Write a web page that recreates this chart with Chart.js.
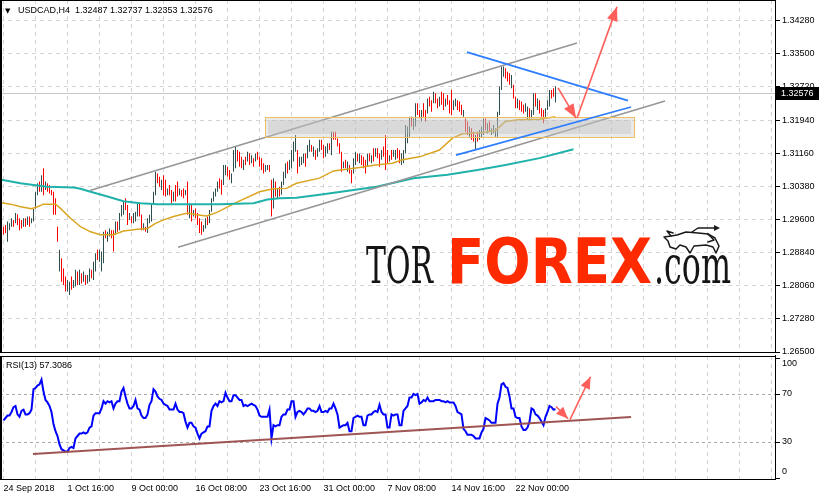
<!DOCTYPE html>
<html><head><meta charset="utf-8">
<script src="https://cdn.jsdelivr.net/npm/chart.js@4/dist/chart.umd.min.js"></script>
<style>
html,body{margin:0;padding:0;background:#fff;}
#wrap{position:relative;width:819px;height:500px;overflow:hidden;background:#fff;}
#main{position:absolute;left:0;top:0;}
#rsi{position:absolute;left:0;top:355px;}
</style></head><body>
<div id="wrap">
<canvas id="main" width="819" height="362"></canvas>
<canvas id="rsi" width="819" height="145"></canvas>
</div>
<script>
// ---------------- DATA ----------------
const symbolTitle = "USDCAD,H4";
const lastBar = {o:1.32487, h:1.32737, l:1.32353, c:1.32576};
const rsiTitle = "RSI(13) 57.3086";
const priceTicks = [1.26500,1.27280,1.28060,1.28840,1.29600,1.30380,1.31160,1.31940,1.32720,1.33500,1.34280];
const rsiTicks = [0,30,70,100];
const rsiLevels = [30,70];
const timeLabels = ["24 Sep 2018","1 Oct 16:00","9 Oct 00:00","16 Oct 08:00","23 Oct 16:00","31 Oct 00:00","7 Nov 08:00","14 Nov 16:00","22 Nov 00:00"];
const labelEvery = 32;   // bars between time labels
const gridEvery = 16;    // bars between vertical grid lines

const highs = [
1.2944,1.2948,1.2956,1.2952,1.2964,1.2960,1.2976,1.2973,1.2964,1.2960,
1.2964,1.2964,1.2968,1.2968,1.2964,1.2987,1.3026,1.3046,1.3050,1.3065,
1.3081,1.3050,1.3046,1.3042,1.3030,1.3026,1.3011,1.2944,1.2890,1.2870,
1.2846,1.2827,1.2819,1.2815,1.2827,1.2819,1.2843,1.2839,1.2843,1.2835,
1.2839,1.2831,1.2831,1.2846,1.2843,1.2862,1.2882,1.2890,1.2890,1.2886,
1.2932,1.2936,1.2932,1.2940,1.2936,1.2936,1.2956,1.2956,1.2976,1.2995,
1.3003,1.3011,1.2995,1.2976,1.2968,1.2976,1.2979,1.2999,1.2999,1.2972,
1.2952,1.2944,1.2964,1.2972,1.2999,1.3026,1.3073,1.3069,1.3061,1.3054,
1.3065,1.3054,1.3034,1.3042,1.3030,1.3026,1.3042,1.3050,1.3034,1.3030,
1.3034,1.3030,1.3050,1.2999,1.2995,1.2983,1.2987,1.2976,1.2964,1.2956,
1.2948,1.2964,1.2968,1.2983,1.3011,1.3026,1.3034,1.3050,1.3058,1.3054,
1.3089,1.3089,1.3085,1.3077,1.3069,1.3124,1.3132,1.3124,1.3120,1.3108,
1.3101,1.3108,1.3120,1.3116,1.3112,1.3105,1.3116,1.3120,1.3108,1.3105,
1.3093,1.3089,1.3089,1.3089,1.3054,1.3058,1.3050,1.3034,1.3038,1.3050,
1.3073,1.3093,1.3097,1.3101,1.3124,1.3144,1.3159,1.3124,1.3108,1.3108,
1.3116,1.3116,1.3136,1.3148,1.3136,1.3132,1.3124,1.3128,1.3148,1.3148,
1.3136,1.3132,1.3140,1.3140,1.3167,1.3167,1.3167,1.3151,1.3140,1.3120,
1.3097,1.3101,1.3097,1.3089,1.3077,1.3105,1.3120,1.3116,1.3116,1.3112,
1.3108,1.3101,1.3116,1.3116,1.3112,1.3128,1.3128,1.3128,1.3116,1.3124,
1.3132,1.3159,1.3124,1.3112,1.3124,1.3124,1.3124,1.3128,1.3124,1.3116,
1.3124,1.3183,1.3179,1.3202,1.3202,1.3198,1.3234,1.3234,1.3218,1.3218,
1.3234,1.3218,1.3245,1.3249,1.3241,1.3261,1.3257,1.3245,1.3249,1.3261,
1.3257,1.3245,1.3253,1.3241,1.3265,1.3241,1.3245,1.3241,1.3238,1.3230,
1.3218,1.3198,1.3191,1.3179,1.3175,1.3167,1.3159,1.3167,1.3171,1.3179,
1.3198,1.3198,1.3187,1.3191,1.3175,1.3183,1.3175,1.3214,1.3273,1.3320,
1.3320,1.3316,1.3308,1.3304,1.3300,1.3277,1.3249,1.3245,1.3241,1.3238,
1.3230,1.3234,1.3226,1.3222,1.3218,1.3257,1.3257,1.3245,1.3241,1.3222,
1.3218,1.3222,1.3241,1.3265,1.3265,1.3269,1.32737];

const lows = [
1.2926,1.2929,1.2909,1.2936,1.2944,1.2944,1.2952,1.2948,1.2936,1.2940,
1.2944,1.2944,1.2948,1.2944,1.2952,1.2956,1.2987,1.3018,1.3026,1.3026,
1.3018,1.3030,1.3026,1.3022,1.3018,1.2972,1.2972,1.2909,1.2839,1.2815,
1.2807,1.2792,1.2792,1.2784,1.2796,1.2800,1.2804,1.2807,1.2807,1.2811,
1.2815,1.2807,1.2811,1.2815,1.2823,1.2819,1.2839,1.2866,1.2862,1.2839,
1.2858,1.2917,1.2909,1.2921,1.2917,1.2886,1.2925,1.2932,1.2936,1.2968,
1.2972,1.2983,1.2948,1.2960,1.2952,1.2952,1.2956,1.2968,1.2968,1.2936,
1.2936,1.2932,1.2929,1.2952,1.2956,1.2995,1.3018,1.3046,1.3038,1.3030,
1.3018,1.3015,1.3018,1.3018,1.2999,1.3003,1.3003,1.3015,1.3018,1.3015,
1.3011,1.3018,1.2972,1.2964,1.2956,1.2968,1.2964,1.2948,1.2929,1.2925,
1.2932,1.2940,1.2948,1.2952,1.2979,1.3003,1.3015,1.3026,1.3034,1.3019,
1.3042,1.3065,1.3062,1.3054,1.3046,1.3073,1.3081,1.3097,1.3085,1.3081,
1.3077,1.3089,1.3097,1.3089,1.3093,1.3085,1.3097,1.3101,1.3085,1.3077,
1.3069,1.3073,1.3077,1.3073,1.2968,1.2987,1.3015,1.3011,1.3015,1.3019,
1.3042,1.3058,1.3069,1.3077,1.3081,1.3097,1.3120,1.3069,1.3085,1.3089,
1.3093,1.3085,1.3105,1.3120,1.3120,1.3108,1.3101,1.3108,1.3120,1.3124,
1.3105,1.3108,1.3116,1.3124,1.3112,1.3148,1.3148,1.3132,1.3116,1.3073,
1.3081,1.3081,1.3073,1.3069,1.3046,1.3069,1.3089,1.3097,1.3093,1.3089,
1.3081,1.3069,1.3085,1.3097,1.3093,1.3097,1.3108,1.3105,1.3085,1.3101,
1.3108,1.3077,1.3093,1.3097,1.3101,1.3108,1.3101,1.3105,1.3093,1.3089,
1.3093,1.3116,1.3140,1.3155,1.3179,1.3171,1.3179,1.3206,1.3198,1.3191,
1.3202,1.3191,1.3210,1.3226,1.3214,1.3234,1.3234,1.3222,1.3226,1.3230,
1.3218,1.3226,1.3230,1.3210,1.3206,1.3218,1.3226,1.3218,1.3214,1.3206,
1.3202,1.3167,1.3159,1.3155,1.3148,1.3144,1.3126,1.3144,1.3148,1.3152,
1.3159,1.3171,1.3163,1.3167,1.3159,1.3163,1.3155,1.3155,1.3206,1.3265,
1.3296,1.3292,1.3285,1.3277,1.3269,1.3245,1.3222,1.3222,1.3218,1.3214,
1.3210,1.3214,1.3195,1.3198,1.3198,1.3206,1.3226,1.3218,1.3210,1.3202,
1.3187,1.3198,1.3218,1.3226,1.3245,1.3249,1.32353];

// u = bullish bar, d = bearish bar
const barDirs = ("dduuududdd"+"ududuuuudu"+"duddddddud"+"dduuduudud"+"uduuduuduu"+
  "uduudduduu"+"udduduuudd"+"uduuuuuddu"+"ddudduddud"+"dudududddd"+
  "uuduuuuudd"+"uudduuuddd"+"ududududdd"+"duuddududu"+"uuduuuuduu"+
  "uduududuud"+"duududdddd"+"ududduudud"+"ddudududdu"+"ddduduuddu"+
  "uuuuduuddu"+"ddudduddud"+"duddduuddd"+"uddudduduu"+"ududuuuuuu"+
  "uddduddudd"+"duuduududd"+"duuuddu").split("");

// moving averages: [bar index, value]
const maFast = [[-1.75,1.3001],[3.5,1.2997],[8.5,1.2991],[14,1.2986],[17,1.2991],[20,1.2997],[26,1.2997],[28.5,1.2987],[33.5,1.2964],[38.5,1.2944],[43.5,1.2932],[48.5,1.2925],[55,1.2925],[60,1.2934],[67,1.2938],[72,1.2940],[76,1.2952],[80,1.2960],[85,1.2968],[92,1.2976],[96.5,1.2972],[101.5,1.2969],[106.5,1.2977],[116.5,1.3001],[128,1.3026],[135,1.3033],[141.5,1.3034],[146.5,1.3046],[158,1.3058],[165,1.3075],[171.5,1.3079],[178,1.3083],[186,1.3089],[194.5,1.3093],[199.5,1.3101],[208,1.3108],[218,1.3124],[224.5,1.3152],[229.5,1.3162],[239.5,1.3165],[246,1.3170],[251,1.3191],[257.5,1.3195],[268,1.3196],[276,1.3202]];
const maSlow = [[-1.75,1.3055],[8.5,1.3046],[15,1.3042],[22,1.3038],[35,1.3036],[38.5,1.3033],[43.5,1.3026],[52,1.3015],[60,1.3004],[68.5,1.2999],[77,1.2997],[93.5,1.2997],[108,1.2997],[125,1.2999],[132,1.3008],[138,1.3011],[146.5,1.3012],[158,1.3019],[171.5,1.3028],[186.5,1.3038],[205,1.3058],[222,1.3066],[237,1.3077],[251,1.3089],[268,1.3105],[285,1.3126]];

const rsiValues = [48,50,52,52,55,59,60,53,51,56, 57,53,53,54,57,74,75,77,78,82, 72,65,63,60,55,45,39,35,28,24, 23,22,22,25,26,25,33,35,37,37, 38,37,38,42,43,52,54,54,54,58, 64,62,64,63,64,58,62,64,64,72, 75,68,62,58,58,60,65,58,57,52, 50,50,53,61,64,74,72,68,66,65, 62,61,60,57,57,57,62,57,55,55, 54,47,42,46,46,43,42,37,33,37, 38,39,43,43,56,60,62,60,64,63, 64,71,67,64,64,69,69,67,65,65, 60,61,60,61,62,61,60,57,52,51, 51,51,51,57,33,44,43,44,44,51, 53,53,57,57,64,64,51,55,56,55, 53,55,58,58,56,56,55,56,60,55, 55,56,55,58,58,62,58,53,42,43, 44,44,46,39,39,50,51,52,51,51, 44,44,52,53,53,55,56,55,61,55, 53,53,42,42,53,52,53,53,44,44, 56,58,60,67,67,70,69,70,62,63, 65,64,67,64,64,64,65,65,65,64, 64,63,64,63,63,63,60,55,54,53, 41,39,36,36,36,35,33,33,33,38, 41,50,49,48,46,46,46,62,67,78, 79,76,75,68,58,58,51,50,50,43, 40,40,42,47,58,57,53,52,50,47, 44,51,55,60,59,57,57.3086];

// drawn analysis objects: anchors [bar index, price]
const channelUpper = [[43.25,1.3029],[286.75,1.3375]];
const channelLower = [[87.25,1.2896],[330.75,1.3239]];
const wedgeUpper = [[231.75,1.3354],[312.25,1.3240]];
const wedgeLower = [[226.25,1.3112],[313.75,1.3225]];
const arrowDown = [[277.25,1.3270],[286.25,1.3199]];
const arrowUp = [[286.75,1.3199],[306.75,1.3460]];
const zoneBox = [130.75, 315.25, 1.31539, 1.32022]; // from bar, to bar, low, high
const rsiTrend = [[14.75,20.0],[313.75,50.8]];
const rsiArrowDown = [[276.25,59.6],[282.25,49.4]];
const rsiArrowUp = [[283.25,48.6],[293.5,84.4]];

// ---------------- CHART ----------------
const X_MIN = -1.75, X_MAX = 386.25;
const gridIdx = []; for (let v = 0; v <= 384; v += gridEvery) gridIdx.push(v);
const pts = arr => arr.map(p => ({x:p[0], y:p[1]}));
Chart.defaults.font.family = "'Liberation Sans', Arial, sans-serif";
Chart.defaults.font.size = 9;

const GRID = '#d4d4d4';
const BULL = '#2f4f4f', BEAR = '#ff0000';
const BLUE = 'rgb(45,125,255)', GRAY = 'rgb(150,150,150)', ARROW = 'rgb(255,95,90)';

function barsOf(dir) {
  const out = [];
  highs.forEach((h, i) => { if (barDirs[i] === dir) out.push({x: i, y: [lows[i], h]}); });
  return out;
}
function barDs(dir, color, order) {
  return {type: 'bar', data: barsOf(dir), backgroundColor: color, borderColor: color,
    barThickness: 1, borderWidth: 0, inflateAmount: 0, grouped: false, order: order};
}

function lineDs(data, color, width, order, extra) {
  return Object.assign({type:'line', data: pts(data), borderColor: color, borderWidth: width,
    pointRadius: 0, tension: 0, fill: false, order: order, borderCapStyle:'butt'}, extra || {});
}

function drawArrowHeads(chart, len, half) {
  const ctx = chart.ctx;
  chart.data.datasets.forEach((ds, idx) => {
    if (!ds.arrowHead) return;
    const m = chart.getDatasetMeta(idx).data;
    const p1 = m[m.length - 2], p2 = m[m.length - 1];
    const ang = Math.atan2(p2.y - p1.y, p2.x - p1.x);
    ctx.save();
    ctx.translate(p2.x, p2.y); ctx.rotate(ang);
    ctx.fillStyle = ds.borderColor;
    ctx.beginPath(); ctx.moveTo(0,0); ctx.lineTo(-len, -half); ctx.lineTo(-len, half); ctx.closePath(); ctx.fill();
    ctx.restore();
  });
}

function drawBull(ctx, ox, oy) {
  ctx.save(); ctx.translate(ox, oy);
  ctx.strokeStyle = '#1a1a1a'; ctx.lineWidth = 1.5; ctx.lineJoin = 'round'; ctx.lineCap = 'round';
  const body = [[13,9],[22,6],[34,7],[44,8],[51,12],[55,20],[52,27],[49,21],[42,19],[30,20],[26,27],[22,21],[16,19],[12,23],[6,21],[4,15],[0,11],[7,10],[13,9]];
  ctx.beginPath(); body.forEach((p,i)=> i ? ctx.lineTo(p[0],p[1]) : ctx.moveTo(p[0],p[1])); ctx.stroke();
  ctx.beginPath(); ctx.moveTo(7,10); ctx.lineTo(3,5); ctx.lineTo(9,7); ctx.stroke();
  ctx.beginPath(); ctx.moveTo(28,6); ctx.lineTo(34,2); ctx.lineTo(52,2); ctx.stroke();
  ctx.fillStyle = '#1a1a1a';
  ctx.beginPath(); ctx.moveTo(56,2); ctx.lineTo(50,-1); ctx.lineTo(50,5); ctx.closePath(); ctx.fill();
  ctx.beginPath(); ctx.moveTo(44,8); ctx.lineTo(50,14); ctx.lineTo(44,16); ctx.stroke();
  ctx.restore();
}

function drawLogo(ctx) {
  ctx.save();
  ctx.textBaseline = 'alphabetic'; ctx.textAlign = 'left';
  ctx.fillStyle = '#151515';
  ctx.font = "50px 'DejaVu Serif'";
  ctx.fillText('TOR', 366, 283, 67);
  ctx.fillStyle = '#ff2a00';
  ctx.font = "bold 62px 'DejaVu Sans'";
  ctx.fillText('FOREX', 447, 283, 205);
  ctx.fillStyle = '#151515';
  ctx.font = "53px 'DejaVu Serif'";
  ctx.fillText('.com', 654, 283, 77);
  drawBull(ctx, 664, 226);
  ctx.restore();
}

function drawZone(chart) {
  const {ctx, scales:{x, y}} = chart;
  const x0 = Math.round(x.getPixelForValue(zoneBox[0])), x1 = Math.round(x.getPixelForValue(zoneBox[1]));
  const y0 = Math.round(y.getPixelForValue(zoneBox[3])), y1 = Math.round(y.getPixelForValue(zoneBox[2]));
  ctx.save();
  ctx.fillStyle = 'rgba(195,195,195,0.35)';
  ctx.fillRect(x0, y0, x1 - x0, y1 - y0);
  ctx.fillStyle = 'rgba(185,185,185,0.35)';
  ctx.fillRect(x0 + 3, y0 + 3, x1 - x0 - 6, y1 - y0 - 6);
  ctx.strokeStyle = 'rgb(238,192,95)'; ctx.lineWidth = 1;
  ctx.strokeRect(x0 + 0.5, y0 + 0.5, x1 - x0, y1 - y0);
  ctx.restore();
}

const mainPlugin = {
  id: 'mainDecor',
  beforeDatasetsDraw(chart) {
    const {ctx, chartArea: a, scales: {y}} = chart;
    ctx.save();
    const yb = Math.round(y.getPixelForValue(lastBar.c)) + 0.5;
    ctx.strokeStyle = '#c6c6c6'; ctx.lineWidth = 1;
    ctx.beginPath(); ctx.moveTo(a.left, yb); ctx.lineTo(a.right, yb); ctx.stroke();
    ctx.restore();
    drawLogo(ctx);
  },
  afterDatasetDraw(chart, args) {
    if (chart.data.datasets[args.index].zoneAfter) drawZone(chart);
  },
  afterDatasetsDraw(chart) { drawArrowHeads(chart, 14, 5.5); },
  afterDraw(chart) {
    const {ctx, chartArea: a, scales: {y}} = chart;
    ctx.save();
    ctx.strokeStyle = '#000'; ctx.lineWidth = 1;
    ctx.beginPath();
    ctx.moveTo(0.5, 0); ctx.lineTo(0.5, a.bottom + 1);
    ctx.moveTo(1.5, 0); ctx.lineTo(1.5, a.bottom + 1);
    ctx.moveTo(0, 0.5); ctx.lineTo(a.right, 0.5);
    ctx.moveTo(a.right - 0.5, 0); ctx.lineTo(a.right - 0.5, a.bottom + 1);
    ctx.moveTo(0, a.bottom + 0.5); ctx.lineTo(a.right, a.bottom + 0.5);
    ctx.stroke();
    // current price tag
    const yc = Math.round(y.getPixelForValue(lastBar.c));
    ctx.fillStyle = '#000';
    ctx.fillRect(a.right, yc - 6, 43, 13);
    ctx.fillStyle = '#fff'; ctx.font = "9px 'Liberation Sans'";
    ctx.textBaseline = 'middle'; ctx.textAlign = 'left';
    ctx.fillText(lastBar.c.toFixed(5), a.right + 5, yc + 0.5);
    // title
    ctx.fillStyle = '#000';
    ctx.font = "7px 'DejaVu Sans'";
    ctx.fillText('\u25BC', 5, 11);
    ctx.font = "9px 'Liberation Sans'";
    ctx.fillText(symbolTitle + '  ' + [lastBar.o, lastBar.h, lastBar.l, lastBar.c].map(v => v.toFixed(5)).join(' '), 18, 11);
    ctx.restore();
  }
};

new Chart(document.getElementById('main'), {
  type: 'bar',
  data: {
    datasets: [
      barDs('u', BULL, 21),
      barDs('d', BEAR, 20),
      lineDs(maFast, 'rgb(218,165,32)', 1.5, 19),
      lineDs(maSlow, 'rgb(32,178,170)', 2, 18),
      lineDs(channelUpper, GRAY, 1.6, 15),
      lineDs(channelLower, GRAY, 1.6, 14, {zoneAfter: true}),
      lineDs(wedgeUpper, BLUE, 1.8, 10),
      lineDs(wedgeLower, BLUE, 1.8, 9),
      lineDs(arrowDown, ARROW, 1.6, 5, {arrowHead: true}),
      lineDs(arrowUp, ARROW, 1.6, 4, {arrowHead: true})
    ]
  },
  options: {
    responsive: false, animation: false, devicePixelRatio: 1, events: [],
    layout: {padding: {left: 0, right: 0, top: 0, bottom: 10}},
    plugins: {legend: {display: false}, tooltip: {enabled: false}, colors: {enabled: false}},
    scales: {
      x: {type: 'linear', min: X_MIN, max: X_MAX, offset: false,
          afterBuildTicks: s => { s.ticks = gridIdx.map(v => ({value: v})); },
          ticks: {display: false},
          grid: {color: GRID, drawTicks: false, offset: false},
          border: {display: false, dash: [4, 4]},
          afterFit: s => { s.height = 0; s.paddingLeft = 0; s.paddingRight = 0; }},
      y: {type: 'linear', position: 'right', min: 1.26500, max: 1.34761, beginAtZero: false,
          afterBuildTicks: s => { s.ticks = priceTicks.map(v => ({value: v})); },
          ticks: {callback: v => v.toFixed(5), padding: 2, color: '#000', font: {size: 9}},
          grid: {color: GRID, tickColor: '#000', tickLength: 4, tickBorderDash: []},
          border: {display: false, dash: [4, 4]},
          afterFit: s => { s.width = 43; s.paddingTop = 0; s.paddingBottom = 0; }}
    }
  },
  plugins: [mainPlugin]
});

const rsiPlugin = {
  id: 'rsiDecor',
  afterDatasetsDraw(chart) { drawArrowHeads(chart, 12, 5); },
  afterDraw(chart) {
    const {ctx, chartArea: a, scales: {y}} = chart;
    ctx.save();
    ctx.strokeStyle = '#000'; ctx.lineWidth = 1;
    ctx.beginPath();
    ctx.moveTo(0.5, a.top); ctx.lineTo(0.5, a.bottom + 1);
    ctx.moveTo(1.5, a.top); ctx.lineTo(1.5, a.bottom + 1);
    ctx.moveTo(0, a.top + 0.5); ctx.lineTo(a.right, a.top + 0.5);
    ctx.moveTo(a.right - 0.5, 0); ctx.lineTo(a.right - 0.5, a.bottom + 1);
    ctx.moveTo(0, a.bottom + 0.5); ctx.lineTo(a.right, a.bottom + 0.5);
    ctx.stroke();
    ctx.fillStyle = '#000'; ctx.font = "9px 'Liberation Sans'";
    ctx.textBaseline = 'middle'; ctx.textAlign = 'left';
    rsiTicks.forEach(v => {
      let py = y.getPixelForValue(v);
      py = Math.max(a.top + 8, Math.min(a.bottom - 7, py));
      ctx.fillText(String(v), a.right + 6, py);
    });
    ctx.fillText(rsiTitle, 6, 10.5);
    ctx.restore();
  }
};

new Chart(document.getElementById('rsi'), {
  type: 'line',
  data: {
    datasets: [
      lineDs(rsiValues.map((v, i) => [i, v]), '#0000ff', 2, 10),
      lineDs(rsiTrend, 'rgba(155,75,75,0.95)', 2, 6),
      lineDs(rsiArrowDown, ARROW, 1.6, 4, {arrowHead: true}),
      lineDs(rsiArrowUp, ARROW, 1.6, 3, {arrowHead: true})
    ]
  },
  options: {
    responsive: false, animation: false, devicePixelRatio: 1, events: [],
    layout: {padding: {left: 0, right: 0, top: 1, bottom: 0}},
    plugins: {legend: {display: false}, tooltip: {enabled: false}, colors: {enabled: false}},
    scales: {
      x: {type: 'linear', min: X_MIN, max: X_MAX, offset: false,
          afterBuildTicks: s => { s.ticks = gridIdx.map(v => ({value: v})); },
          ticks: {autoSkip: false, maxRotation: 0, minRotation: 0, align: 'start', padding: 4, color: '#000',
                  callback: v => (v % labelEvery === 0 && v / labelEvery < timeLabels.length) ? timeLabels[v / labelEvery] : ''},
          grid: {color: GRID, drawTicks: false},
          border: {display: false, dash: [4, 4]},
          afterFit: s => { s.height = 21; s.paddingLeft = 0; s.paddingRight = 0; }},
      y: {type: 'linear', position: 'right', min: -0.83, max: 101.67,
          afterBuildTicks: s => { s.ticks = rsiTicks.map(v => ({value: v})); },
          ticks: {display: false},
          grid: {color: c => (c.tick && rsiLevels.includes(c.tick.value)) ? '#a9a9a9' : 'rgba(0,0,0,0)',
                 tickColor: '#000', tickLength: 4, tickBorderDash: []},
          border: {display: false, dash: [3, 3]},
          afterFit: s => { s.width = 43; s.paddingTop = 0; s.paddingBottom = 0; }}
    }
  },
  plugins: [rsiPlugin]
});
</script>
</body></html>
